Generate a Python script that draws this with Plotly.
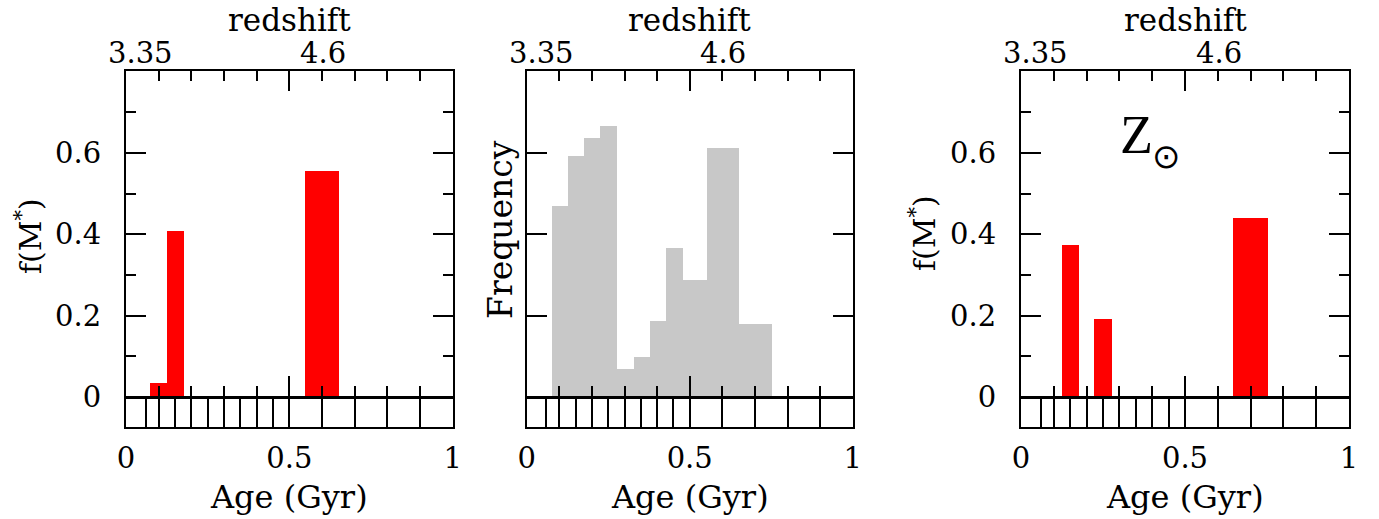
import plotly.graph_objects as go

# ---------------- data ----------------
age_ticks = [0, 0.5, 1]
age_ticktext = ["0", "0.5", "1"]
redshift_labels = ["3.35", "4.6"]
redshift_label_pos = [0.045, 0.603]
model_age_grid = [0.06, 0.10, 0.15, 0.20, 0.25, 0.30, 0.35, 0.40, 0.45, 0.50, 0.60, 0.70, 0.80, 0.90]
minor_age_ticks = [0.1, 0.2, 0.3, 0.4, 0.5, 0.6, 0.7, 0.8, 0.9]

fm_ticks = [0, 0.2, 0.4, 0.6]
fm_ticktext = ["0", "0.2", "0.4", "0.6"]
fm_minor = [0.1, 0.3, 0.5, 0.7]

# panel 1: f(M*)
p1_left = [0.073, 0.125, 0.547]
p1_right = [0.125, 0.178, 0.652]
p1_vals = [0.036, 0.41, 0.556]

# panel 2: frequency histogram
p2_edges = [0.077, 0.126, 0.176, 0.225, 0.276, 0.327, 0.376, 0.426, 0.477, 0.552, 0.651, 0.752]
p2_vals = [0.472, 0.593, 0.638, 0.667, 0.069, 0.099, 0.189, 0.368, 0.289, 0.613, 0.180]

# panel 3: f(M*) (solar metallicity)
p3_left = [0.124, 0.223, 0.647]
p3_right = [0.177, 0.277, 0.752]
p3_vals = [0.374, 0.193, 0.441]

# ---------------- layout geometry ----------------
W, H = 1379, 519
FONT = "DejaVu Serif"
RED = "#ff0000"
GRAY = "#c8c8c8"

px_x = [(126, 452.7), (526.7, 852.7), (1021, 1349)]
y_top, y_bot = 70.5, 427.0
ydom = [1 - y_bot / H, 1 - y_top / H]
yrange = [-0.0738, 0.8028]
zero_pos = ydom[0] + (0 - yrange[0]) / (yrange[1] - yrange[0]) * (ydom[1] - ydom[0])

fig = go.Figure()

def bars(left, right, vals, color, xa, ya):
    centers = [(l + r) / 2 for l, r in zip(left, right)]
    widths = [r - l for l, r in zip(left, right)]
    fig.add_trace(go.Bar(x=centers, y=vals, width=widths, base=0,
                         marker=dict(color=color, line=dict(width=0)),
                         xaxis=xa, yaxis=ya, showlegend=False, hoverinfo="skip"))

bars(p1_left, p1_right, p1_vals, RED, "x", "y")
bars(p2_edges[:-1], p2_edges[1:], p2_vals, GRAY, "x2", "y2")
bars(p3_left, p3_right, p3_vals, RED, "x3", "y3")

layout = dict(
    width=W, height=H, margin=dict(l=0, r=0, t=0, b=0, autoexpand=False),
    paper_bgcolor="white", plot_bgcolor="white",
    font=dict(family=FONT, size=29, color="black"),
    bargap=0, barmode="overlay", showlegend=False,
)

annotations = []
for i in range(3):
    n = i + 1
    sfx = "" if n == 1 else str(n)
    xd = [px_x[i][0] / W, px_x[i][1] / W]
    # main bottom axis
    layout["xaxis" + sfx] = dict(
        domain=xd, range=[0, 1], anchor="y" + sfx, side="bottom",
        showline=True, mirror=True, linewidth=2.2, linecolor="black",
        showgrid=False, zeroline=False, automargin=False,
        tickmode="array", tickvals=age_ticks, ticktext=age_ticktext,
        ticks="inside", ticklen=30, tickwidth=1.6, tickcolor="black",
        ticklabelstandoff=4, tickfont=dict(family=FONT, size=29),
        minor=dict(tickmode="array", tickvals=model_age_grid, ticks="inside",
                   ticklen=30, tickwidth=1.6, tickcolor="black", showgrid=False),
        fixedrange=True,
    )
    # top axis ticks
    top_id = str(3 + n)
    layout["xaxis" + top_id] = dict(
        overlaying="x" + sfx, anchor="y" + sfx, side="top", range=[0, 1],
        showline=False, showgrid=False, zeroline=False, showticklabels=False, automargin=False,
        tickmode="array", tickvals=[0.5], ticks="inside", ticklen=20, tickwidth=2, tickcolor="black",
        minor=dict(tickmode="array", tickvals=minor_age_ticks, ticks="inside",
                   ticklen=10, tickwidth=2, tickcolor="black", showgrid=False),
    )
    # zero-line axis
    zero_id = str(6 + n)
    layout["xaxis" + zero_id] = dict(
        overlaying="x" + sfx, anchor="free", position=zero_pos, side="bottom", range=[0, 1],
        showline=True, linewidth=2.6, linecolor="black", automargin=False,
        showgrid=False, zeroline=False, showticklabels=False,
        tickmode="array", tickvals=[0.5], ticks="inside", ticklen=20, tickwidth=2, tickcolor="black",
        minor=dict(tickmode="array", tickvals=minor_age_ticks, ticks="inside",
                   ticklen=10, tickwidth=2, tickcolor="black", showgrid=False),
    )
    fig.add_trace(go.Scatter(x=[], y=[], xaxis="x" + top_id, yaxis="y" + sfx,
                             showlegend=False, hoverinfo="skip"))
    fig.add_trace(go.Scatter(x=[], y=[], xaxis="x" + zero_id, yaxis="y" + sfx,
                             showlegend=False, hoverinfo="skip"))
    # y axis
    yax = dict(
        domain=ydom, range=yrange, anchor="x" + sfx,
        showline=True, mirror="ticks", linewidth=2.2, linecolor="black",
        showgrid=False, zeroline=False, automargin=False,
        ticks="inside", ticklen=20, tickwidth=2, tickcolor="black",
        fixedrange=True,
    )
    if n == 2:
        yax.update(tickmode="array", tickvals=[0.2, 0.4, 0.6], showticklabels=False)
    else:
        yax.update(tickmode="array", tickvals=fm_ticks, ticktext=fm_ticktext,
                   ticklabelstandoff=17, tickfont=dict(family=FONT, size=29),
                   minor=dict(tickmode="array", tickvals=fm_minor, ticks="inside",
                              ticklen=10, tickwidth=2, tickcolor="black", showgrid=False))
    layout["yaxis" + sfx] = yax

    cx = (px_x[i][0] + px_x[i][1]) / 2
    # redshift title
    annotations.append(dict(text="redshift", x=cx / W, y=1 - 20 / H, xref="paper", yref="paper",
                            showarrow=False, xanchor="center", yanchor="middle",
                            font=dict(family=FONT, size=31)))
    # redshift labels
    for lab, pos in zip(redshift_labels, redshift_label_pos):
        annotations.append(dict(text=lab, x=pos, y=1 - 53 / H, xref="x" + sfx, yref="paper",
                                showarrow=False, xanchor="center", yanchor="middle",
                                font=dict(family=FONT, size=29)))
    # Age title
    annotations.append(dict(text="Age (Gyr)", x=cx / W, y=1 - 497 / H, xref="paper", yref="paper",
                            showarrow=False, xanchor="center", yanchor="middle",
                            font=dict(family=FONT, size=32)))

# y titles
annotations.append(dict(text="f(M<sup>*</sup>)", x=29 / W, y=1 - 236 / H, xref="paper", yref="paper",
                        showarrow=False, textangle=-90, xanchor="center", yanchor="middle",
                        font=dict(family=FONT, size=30)))
annotations.append(dict(text="f(M<sup>*</sup>)", x=922 / W, y=1 - 233 / H, xref="paper", yref="paper",
                        showarrow=False, textangle=-90, xanchor="center", yanchor="middle",
                        font=dict(family=FONT, size=30)))
annotations.append(dict(text="Frequency", x=500 / W, y=1 - 230 / H, xref="paper", yref="paper",
                        showarrow=False, textangle=-90, xanchor="center", yanchor="middle",
                        font=dict(family=FONT, size=33)))
# Z_sun label
annotations.append(dict(text="Z", x=1136 / W, y=1 - 135 / H, xref="paper", yref="paper",
                        showarrow=False, xanchor="center", yanchor="middle",
                        font=dict(family="Liberation Serif", size=54)))
annotations.append(dict(text="\u2299", x=1166 / W, y=1 - 156 / H, xref="paper", yref="paper",
                        showarrow=False, xanchor="center", yanchor="middle",
                        font=dict(family="DejaVu Sans", size=34)))

layout["annotations"] = annotations
fig.update_layout(**layout)
fig.write_html("out.html")
